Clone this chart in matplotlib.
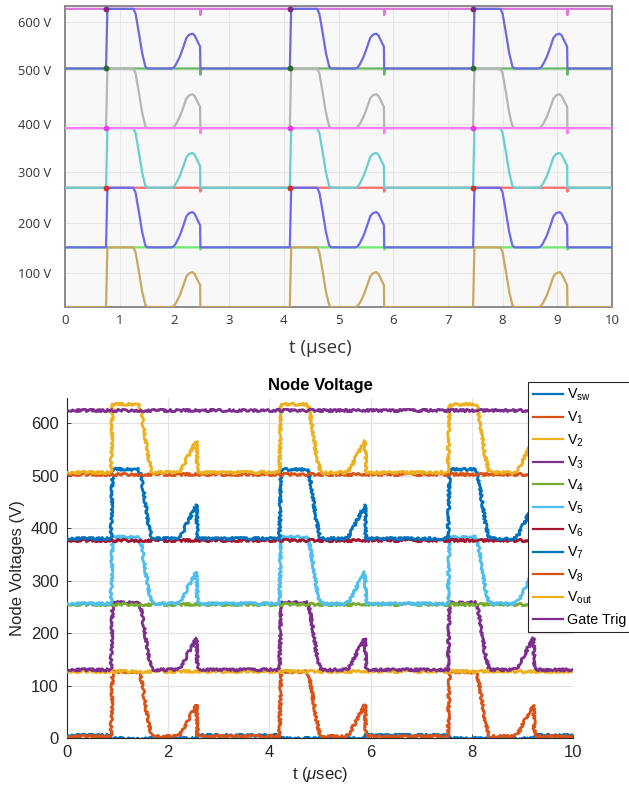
import numpy as np
import matplotlib
matplotlib.use("Agg")
import matplotlib.pyplot as plt
from matplotlib.lines import Line2D

# ---------------- simulated node voltages (upper panel) ----------------
sim_pulse_starts = [0.75, 4.11, 7.46]
# one switching cycle: time after turn-on, fraction of the step, fraction of the recovery bump
sim_shape_dt = [0.0, 0.025, 0.50, 0.54, 0.60, 0.66, 0.72, 0.76, 1.20, 1.24, 1.28,
                1.35, 1.41, 1.47, 1.52, 1.58, 1.62, 1.66, 1.69, 1.72, 1.725]
sim_shape_step = [0, 1, 1, 0.92, 0.60, 0.26, 0.03, 0, 0, 0, 0,
                  0, 0, 0, 0, 0, 0, 0, 0, 0, 0]
sim_shape_bump = [0, 0, 0, 0, 0, 0, 0, 0, 0, 0.03, 0.12,
                  0.34, 0.60, 0.88, 0.97, 1.0, 0.95, 0.82, 0.72, 0.63, 0]
sim_levels = [0, 125, 250, 375, 500, 625]
sim_bump_height = [73, 74, 73, 71, 73]
sim_switch_colors = ["#c9a862", "#6a6aee", "#66cfcf", "#b5b5b5", "#6b6bdc"]
sim_rail_levels = [125, 250, 375, 500, 625]
sim_rail_dip = [5, 8, 11, 13, 13]
sim_rail_colors = ["#6fe86f", "#ff6b6b", "#ff7cff", "#66b866", "#de74de"]
sim_rail_dot_colors = ["#3a8a3a", "#cc3333", "#e040e0", "#2a6a2a", "#7a2a7a"]
sim_rail_z = [2, 2, 4, 2, 2]
sim_ytick_pos = [597, 496, 384, 282, 176, 71]
sim_ytick_labels = ["600 V", "500 V", "400 V", "300 V", "200 V", "100 V"]
sim_xticks = list(range(0, 11))

# ---------------- measured node voltages (lower panel) ----------------
meas_pulse_starts = [0.87, 4.20, 7.53]
meas_shape_dt = [0.0, 0.03, 0.54, 0.58, 0.63, 0.68, 0.73, 0.80, 0.84,
                 1.30, 1.36, 1.42, 1.50, 1.60, 1.69, 1.71, 1.73]
meas_shape_step = [0, 1, 1, 0.95, 0.74, 0.50, 0.25, 0.03, 0,
                   0, 0, 0, 0, 0, 0, 0, 0]
meas_shape_bump = [0, 0, 0, 0, 0, 0, 0, 0, 0,
                   0, 0.05, 0.20, 0.45, 0.75, 1.0, 0.04, 0]
meas_names = [r"$\mathregular{V_{sw}}$", r"$\mathregular{V_1}$", r"$\mathregular{V_2}$",
              r"$\mathregular{V_3}$", r"$\mathregular{V_4}$", r"$\mathregular{V_5}$",
              r"$\mathregular{V_6}$", r"$\mathregular{V_7}$", r"$\mathregular{V_8}$",
              r"$\mathregular{V_{out}}$", "Gate Trig"]
meas_colors = ["#0072BD", "#D95319", "#EDB120", "#7E2F8E", "#77AC30", "#4DBEEE",
               "#A2142F", "#0072BD", "#D95319", "#EDB120", "#7E2F8E"]
# switching nodes: index -> (low level, high level, bump peak)
meas_switch = {1: (3, 126, 63), 3: (130, 258, 190), 5: (256, 383, 316),
               7: (380, 512, 444), 9: (506, 636, 566)}
# steady nodes: index -> level
meas_steady = {2: 127, 4: 255, 6: 378, 8: 504, 10: 626}
vsw_idle, vsw_active = 5, -1
meas_xticks = [0, 2, 4, 6, 8, 10]
meas_yticks = [0, 100, 200, 300, 400, 500, 600]


def pulse_train(starts, dt, step, bump, low, high, peak, t_end=10.0):
    t, v = [0.0], [low]
    for t0 in starts:
        for d, s, b in zip(dt, step, bump):
            t.append(t0 + d)
            v.append(low + s * (high - low) + b * (peak - low))
    t.append(t_end)
    v.append(low)
    return np.array(t), np.array(v)


def rail_with_dips(starts, drop_dt, level, dip, t_end=10.0):
    t, v = [0.0], [level]
    for t0 in starts:
        d = t0 + drop_dt
        t += [d - 0.004, d, d + 0.02]
        v += [level, level - dip, level]
    t.append(t_end)
    v.append(level)
    return np.array(t), np.array(v)


plt.rcParams["mathtext.fontset"] = "custom"
plt.rcParams["mathtext.rm"] = "Liberation Sans"
plt.rcParams["mathtext.it"] = "Liberation Sans:italic"
plt.rcParams["mathtext.bf"] = "Liberation Sans:bold"

fig = plt.figure(figsize=(6.29, 7.87), dpi=100)
W, H = 629.0, 787.0

# ======================= upper panel =======================
ax1 = fig.add_axes([65 / W, 1 - 307 / H, (612 - 65) / W, (307 - 6) / H])
ax1.set_facecolor("#f8f8f8")
ax1.set_xlim(0, 10)
ax1.set_ylim(0, 631)

drop_dt = sim_shape_dt[-1]
for lvl, dip, col, z, dcol in zip(sim_rail_levels, sim_rail_dip, sim_rail_colors,
                                  sim_rail_z, sim_rail_dot_colors):
    t, v = rail_with_dips(sim_pulse_starts, drop_dt, lvl, dip)
    ax1.plot(t, v, color=col, lw=1.6, zorder=z, solid_joinstyle="round")
    if lvl > 125:
        ax1.plot(sim_pulse_starts, [lvl] * len(sim_pulse_starts), ls="none", marker="o",
                 ms=3.2, color=dcol, zorder=5)

for k in range(5):
    low, high = sim_levels[k], sim_levels[k + 1]
    t, v = pulse_train(sim_pulse_starts, sim_shape_dt, sim_shape_step, sim_shape_bump,
                       low, high, low + sim_bump_height[k])
    ax1.plot(t, v, color=sim_switch_colors[k], lw=1.6, zorder=3, solid_joinstyle="round")

ax1.set_xticks(sim_xticks)
ax1.set_xticklabels([str(x) for x in sim_xticks], fontfamily="Open Sans", fontsize=9.5,
                    color="#333333")
ax1.set_yticks(sim_ytick_pos)
ax1.set_yticklabels(sim_ytick_labels, fontfamily="Open Sans", fontsize=9.3, color="#333333")
ax1.tick_params(axis="both", length=0)
ax1.tick_params(axis="y", pad=10)
ax1.tick_params(axis="x", pad=5)
ax1.grid(True, color="#e6e6e6", lw=0.8, zorder=0)
ax1.set_axisbelow(True)
for sp in ax1.spines.values():
    sp.set_color("#8a8a8a")
    sp.set_linewidth(1.4)
ax1.set_xlabel("t (μsec)", fontfamily="Open Sans", fontsize=13.5, color="#333333")
ax1.xaxis.set_label_coords((320 - 65) / 547, -(339 - 307) / 301)

# ======================= lower panel =======================
ax2 = fig.add_axes([67 / W, 1 - 738 / H, (573 - 67) / W, (738 - 398) / H])
ax2.set_xlim(0, 10)
ax2.set_ylim(0, 648)

for i, (name, col) in enumerate(zip(meas_names, meas_colors)):
    if i == 0:
        t, v = [0.0], [vsw_idle]
        for t0 in meas_pulse_starts:
            t += [t0, t0 + 0.01, t0 + 1.67, t0 + 1.71]
            v += [vsw_idle, vsw_active, vsw_active, vsw_idle]
        t.append(10.0)
        v.append(vsw_idle)
    elif i in meas_switch:
        low, high, peak = meas_switch[i]
        t, v = pulse_train(meas_pulse_starts, meas_shape_dt, meas_shape_step,
                           meas_shape_bump, low, high, peak)
    else:
        lvl = meas_steady[i]
        t, v = [0.0, 10.0], [lvl, lvl]
    ln, = ax2.plot(t, v, color=col, lw=2.0, zorder=3 + i * 0.1)
    ln.set_sketch_params(scale=1.2, length=2.5, randomness=12)

ax2.set_xticks(meas_xticks)
ax2.set_yticks(meas_yticks)
for lab in ax2.get_xticklabels() + ax2.get_yticklabels():
    lab.set_fontfamily("Liberation Sans")
    lab.set_fontsize(12)
    lab.set_color("#262626")
ax2.tick_params(axis="both", direction="in", length=3, width=0.6, color="#262626")
ax2.tick_params(axis="y", pad=6)
ax2.tick_params(axis="x", pad=5)
ax2.grid(True, color="#e3e3e3", lw=0.8)
ax2.set_axisbelow(True)
ax2.spines["top"].set_visible(False)
ax2.spines["right"].set_visible(False)
for side in ("left", "bottom"):
    ax2.spines[side].set_color("#262626")
    ax2.spines[side].set_linewidth(0.8)
ax2.set_title("Node Voltage", fontfamily="Liberation Sans", fontsize=12, fontweight="bold",
              color="black", pad=6)
ax2.set_xlabel(r"t ($\mu$sec)", fontfamily="Liberation Sans", fontsize=12, color="#262626",
               labelpad=4)
ax2.set_ylabel("Node Voltages (V)", fontfamily="Liberation Sans", fontsize=12, color="#262626",
               labelpad=4)

handles = [Line2D([0], [0], color=c, lw=1.6) for c in meas_colors]
leg = fig.legend(handles, meas_names, loc="upper left",
                 bbox_to_anchor=(528 / W, 1 - 382 / H, (640 - 528) / W, 0.0),
                 mode="expand", bbox_transform=fig.transFigure, borderaxespad=0,
                 fancybox=False, framealpha=1, edgecolor="#262626", handlelength=2.1,
                 handletextpad=0.25, labelspacing=0.43, borderpad=0.35,
                 prop={"family": "Liberation Sans", "size": 10.3})
leg.get_frame().set_linewidth(0.8)
leg.set_zorder(10)

fig.savefig("out.png", dpi=100)
